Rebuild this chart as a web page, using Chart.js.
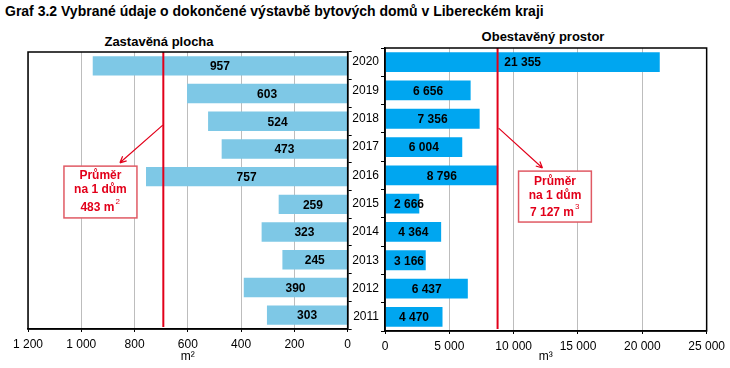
<!DOCTYPE html>
<html>
<head>
<meta charset="utf-8">
<script src="https://cdn.jsdelivr.net/npm/chart.js@4.4.1/dist/chart.umd.min.js"></script>
<style>
  body { margin: 0; width: 730px; height: 368px; position: relative; background: #fff; overflow: hidden; font-family: "Liberation Sans", Arial, sans-serif; }
  .txt { position: absolute; font-weight: bold; color: #000; white-space: nowrap; }
  canvas { position: absolute; top: 0; }
</style>
</head>
<body>
<div class="txt" style="left:5px; top:3px; font-size:14px;">Graf 3.2 Vybrané údaje o dokončené výstavbě bytových domů v Libereckém kraji</div>
<div class="txt" style="left:0; width:318px; text-align:center; top:34px; font-size:13px;">Zastavěná plocha</div>
<div class="txt" style="left:386px; width:314px; text-align:center; top:29px; font-size:13px;">Obestavěný prostor</div>
<canvas id="leftChart" width="356" height="368" style="left:0"></canvas>
<canvas id="rightChart" width="385" height="368" style="left:345px"></canvas>
<script>
// data
const years = ["2020", "2019", "2018", "2017", "2016", "2015", "2014", "2013", "2012", "2011"];
const builtArea = [957, 603, 524, 473, 757, 259, 323, 245, 390, 303];          // m2
const builtVolume = [21355, 6656, 7356, 6004, 8796, 2666, 4364, 3166, 6437, 4470]; // m3
const avgAreaText = "483 m";
const avgVolumeText = "7 127 m";
// where the red average line sits in the picture (axis units)
const areaLineAt = 692;
const volumeLineAt = 8750;

Chart.defaults.font.family = '"Liberation Sans", Arial, sans-serif';
Chart.defaults.font.size = 12;
Chart.defaults.color = "#000";

const RED = "#e2001a";

function fmt(n) {
    return String(n).replace(/\B(?=(\d{3})+(?!\d))/g, " ");
}

// black frame round the plot area
const frame = {
    id: "frame",
    afterDraw(chart) {
        const { ctx, chartArea: a } = chart;
        ctx.save();
        ctx.strokeStyle = "#000";
        ctx.lineWidth = 1.5;
        ctx.strokeRect(a.left, a.top, a.right - a.left, a.bottom - a.top);
        ctx.restore();
    }
};

// red average line + callout box + arrow, then value labels
function extras(lineAt, note, sup, clampLeft) {
    return {
        id: "extras",
        afterDatasetsDraw(chart) {
            const { ctx, chartArea: a, scales: { x, y } } = chart;
            ctx.save();

            // average line
            const lx = x.getPixelForValue(lineAt);
            ctx.strokeStyle = RED;
            ctx.lineWidth = 2;
            ctx.beginPath();
            ctx.moveTo(lx, a.top);
            ctx.lineTo(lx, a.bottom - 2);
            ctx.stroke();

            // arrow
            const x1 = x.getPixelForValue(note.arrow[0]), y1 = y.getPixelForValue(note.arrow[1]);
            const x2 = x.getPixelForValue(note.arrow[2]), y2 = y.getPixelForValue(note.arrow[3]);
            ctx.lineWidth = 1.2;
            ctx.beginPath();
            ctx.moveTo(x1, y1);
            ctx.lineTo(x2, y2);
            const ang = Math.atan2(y2 - y1, x2 - x1);
            ctx.moveTo(x2, y2);
            ctx.lineTo(x2 - 7 * Math.cos(ang - 0.45), y2 - 7 * Math.sin(ang - 0.45));
            ctx.moveTo(x2, y2);
            ctx.lineTo(x2 - 7 * Math.cos(ang + 0.45), y2 - 7 * Math.sin(ang + 0.45));
            ctx.stroke();

            // box
            const bx1 = x.getPixelForValue(note.box[0]), bx2 = x.getPixelForValue(note.box[1]);
            const by1 = y.getPixelForValue(note.box[2]), by2 = y.getPixelForValue(note.box[3]);
            const left = Math.min(bx1, bx2), w = Math.abs(bx2 - bx1);
            ctx.fillStyle = "#fff";
            ctx.fillRect(left, by1, w, by2 - by1);
            ctx.strokeStyle = "#e05a64";
            ctx.lineWidth = 1.5;
            ctx.strokeRect(left, by1, w, by2 - by1);

            const cx = left + w / 2;
            ctx.fillStyle = RED;
            ctx.font = 'bold 12px "Liberation Sans", Arial, sans-serif';
            ctx.textAlign = "center";
            ctx.textBaseline = "middle";
            ctx.fillText("Průměr", cx, by1 + note.lines[0]);
            ctx.fillText("na 1 dům", cx, by1 + note.lines[1]);
            const tw = ctx.measureText(note.text).width;
            ctx.fillText(note.text, cx - 3, by1 + note.lines[2]);
            ctx.font = '8px "Liberation Sans", Arial, sans-serif';
            ctx.textAlign = "left";
            ctx.fillText(sup, cx - 3 + tw / 2 + 1, by1 + note.lines[2] - 6);

            // value labels
            ctx.fillStyle = "#000";
            ctx.font = 'bold 12px "Liberation Sans", Arial, sans-serif';
            ctx.textAlign = "center";
            const meta = chart.getDatasetMeta(0);
            meta.data.forEach((bar, i) => {
                const label = fmt(chart.data.datasets[0].data[i]);
                let px = (bar.x + bar.base) / 2;
                if (clampLeft) {
                    const lw = ctx.measureText(label).width;
                    px = Math.max(px, a.left + lw / 2 + 9);
                }
                ctx.fillText(label, px, bar.y + 1);
            });
            ctx.restore();
        }
    };
}

function makeChart(id, values, color, xOpts, yOpts, padding, plugins) {
    return new Chart(document.getElementById(id), {
        type: "bar",
        data: {
            labels: years,
            datasets: [{
                data: values,
                backgroundColor: color,
                borderWidth: 0,
                barPercentage: 0.7,
                categoryPercentage: 1
            }]
        },
        options: {
            responsive: false,
            animation: false,
            indexAxis: "y",
            layout: { padding: padding },
            plugins: { legend: { display: false }, tooltip: { enabled: false } },
            scales: { x: xOpts, y: yOpts }
        },
        plugins: plugins
    });
}

// left: built-up area, reversed axis
makeChart("leftChart", builtArea, "#7ec8e6",
    {
        reverse: true, min: 0, max: 1200,
        ticks: { stepSize: 200, padding: 5, maxRotation: 0, callback: v => fmt(v) },
        grid: { color: "#bdbdbd", lineWidth: 1, tickLength: 3, tickColor: "#000" },
        border: { color: "#000", width: 1.5 },
        title: { display: true, text: "m²", padding: { top: 0, bottom: 4 } },
        afterFit: s => { s.height = 39; }
    },
    {
        position: "right",
        ticks: { display: false },
        grid: { drawOnChartArea: false, tickLength: 4, color: "#000", offset: true },
        border: { color: "#000", width: 1.5 },
        afterFit: s => { s.width = 8; }
    },
    { left: 28, top: 52, right: 0, bottom: 0 },
    [frame, extras(areaLineAt, {
        arrow: [694, 2.14, 855, 3.5],
        box: [1065, 791, 3.62, 5.49],
        lines: [10, 24, 42],
        text: avgAreaText
    }, "2", false)]
);

// right: enclosed volume
makeChart("rightChart", builtVolume, "#00a6f0",
    {
        min: 0, max: 25000,
        ticks: { stepSize: 5000, padding: 5, maxRotation: 0, callback: v => fmt(v) },
        grid: { color: "#bdbdbd", lineWidth: 1, tickLength: 3, tickColor: "#000" },
        border: { color: "#000", width: 1.5 },
        title: { display: true, text: "m³", padding: { top: 0, bottom: 4 } },
        afterFit: s => { s.height = 37; }
    },
    {
        position: "left",
        ticks: { padding: 2 },
        grid: { drawOnChartArea: false, tickLength: 4, color: "#000", offset: true },
        border: { color: "#000", width: 1.5 },
        afterFit: s => { s.width = 40; }
    },
    { left: 0, top: 48, right: 22, bottom: 0 },
    [frame, extras(volumeLineAt, {
        arrow: [8830, 2.33, 12240, 3.74],
        box: [10381, 16040, 3.85, 5.65],
        lines: [11, 25, 42],
        text: avgVolumeText
    }, "3", true)]
);
</script>
</body>
</html>
